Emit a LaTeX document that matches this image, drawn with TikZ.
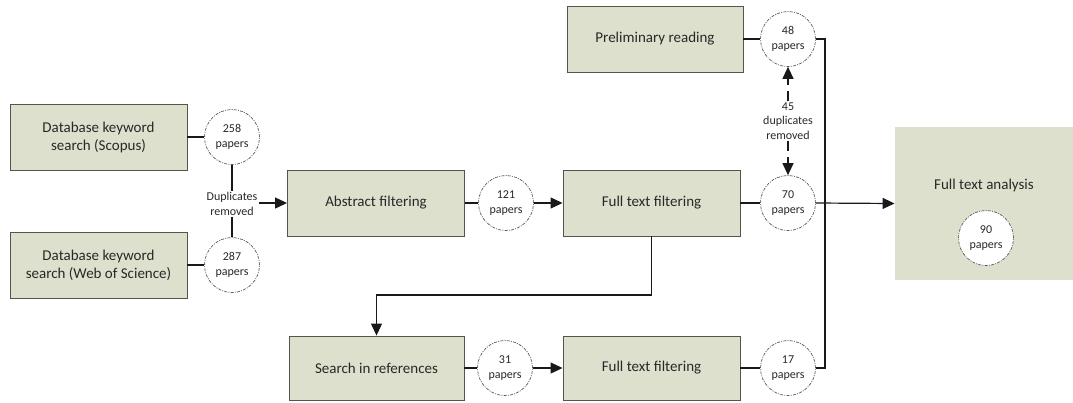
\documentclass[tikz,border=0pt]{standalone}
\usepackage{fontspec}
\setmainfont{Carlito}
\usetikzlibrary{arrows.meta}
\definecolor{boxfill}{RGB}{221,224,204}
\definecolor{boxline}{RGB}{85,85,80}
\definecolor{txt}{RGB}{40,40,40}
\begin{document}
\begin{tikzpicture}[x=1pt,y=-1pt,
  stage/.style={draw=boxline, line width=0.9pt, fill=boxfill, minimum width=177pt, minimum height=66pt, inner sep=0pt, align=center, text=txt, font=\fontsize{15}{18}\selectfont},
  count/.style={circle, draw=black!65, line width=0.7pt, dash pattern=on 3pt off 1.2pt on 1pt off 1.2pt, fill=white, minimum size=55pt, inner sep=0pt, align=center, text=txt, font=\fontsize{12}{14.5}\selectfont},
  note/.style={align=center, text=txt, inner sep=1pt, font=\fontsize{12}{14.5}\selectfont},
  conn/.style={line width=1.2pt, draw=black!90},
  arr/.style={conn, -{Triangle[length=12pt,width=11pt]}},
  darr/.style={conn, dash pattern=on 10pt off 6pt, -{Triangle[length=12pt,width=11pt]}}
]
\useasboundingbox (0,0) rectangle (1073,402);

% boxes
\node[stage] (db1) at (98.5,137) {Database keyword\\search (Scopus)};
\node[stage] (db2) at (98.5,265) {Database keyword\\search (Web of Science)};
\node[stage] (abs) at (376,203) {Abstract filtering};
\node[stage] (ftf1) at (651.5,203) {Full text filtering};
\node[stage, minimum width=176pt] (pre) at (655,39) {Preliminary reading};
\node[stage, minimum width=175pt, minimum height=64pt] (sref) at (376.5,368) {Search in references};
\node[stage, minimum height=64pt] (ftf2) at (651.5,368) {Full text filtering};
\node[stage, draw=none, minimum width=178pt, minimum height=153pt] (fta) at (984,203.5) {};
\node[text=txt, font=\fontsize{15}{18}\selectfont] (ftal) at (984,185) {Full text analysis};

% circles
\node[count] (c258) at (232,137) {258\\papers};
\node[count] (c287) at (232,265) {287\\papers};
\node[count] (c121) at (506,203) {121\\papers};
\node[count] (c70) at (788,203) {70\\papers};
\node[count] (c48) at (788,39) {48\\papers};
\node[count] (c31) at (505,368) {31\\papers};
\node[count] (c17) at (788,368) {17\\papers};
\node[count] (c90) at (986,238) {90\\papers};

% notes
\node[note] (dup) at (232,204) {Duplicates\\removed};
\node[note] (dup45) at (788,121) {45\\duplicates\\removed};

% connectors
\draw[conn] (db1.east) -- (c258.west);
\draw[conn] (db2.east) -- (c287.west);
\draw[conn] (c258.south) -- (dup.north);
\draw[conn] (dup.south) -- (c287.north);
\draw[arr] (dup.east |- abs.west) -- (abs.west);
\draw[conn] (abs.east) -- (c121.west);
\draw[arr] (c121.east) -- (ftf1.west);
\draw[conn] (ftf1.east) -- (c70.west);
\draw[conn] (pre.east) -- (c48.west);
\draw[darr] (dup45.north) -- (c48.south);
\draw[darr] (dup45.south) -- (c70.north);
\coordinate (jn) at (825,368);
\draw[conn] (c48.east) -| (jn) -- (c17.east);
\draw[arr] (c70.east) -- (fta.west);
\coordinate (bend) at (651.5,295);
\draw[arr] (ftf1.south) -- (bend) -| (sref.north);
\draw[conn] (sref.east) -- (c31.west);
\draw[arr] (c31.east) -- (ftf2.west);
\draw[conn] (ftf2.east) -- (c17.west);
\end{tikzpicture}
\end{document}
